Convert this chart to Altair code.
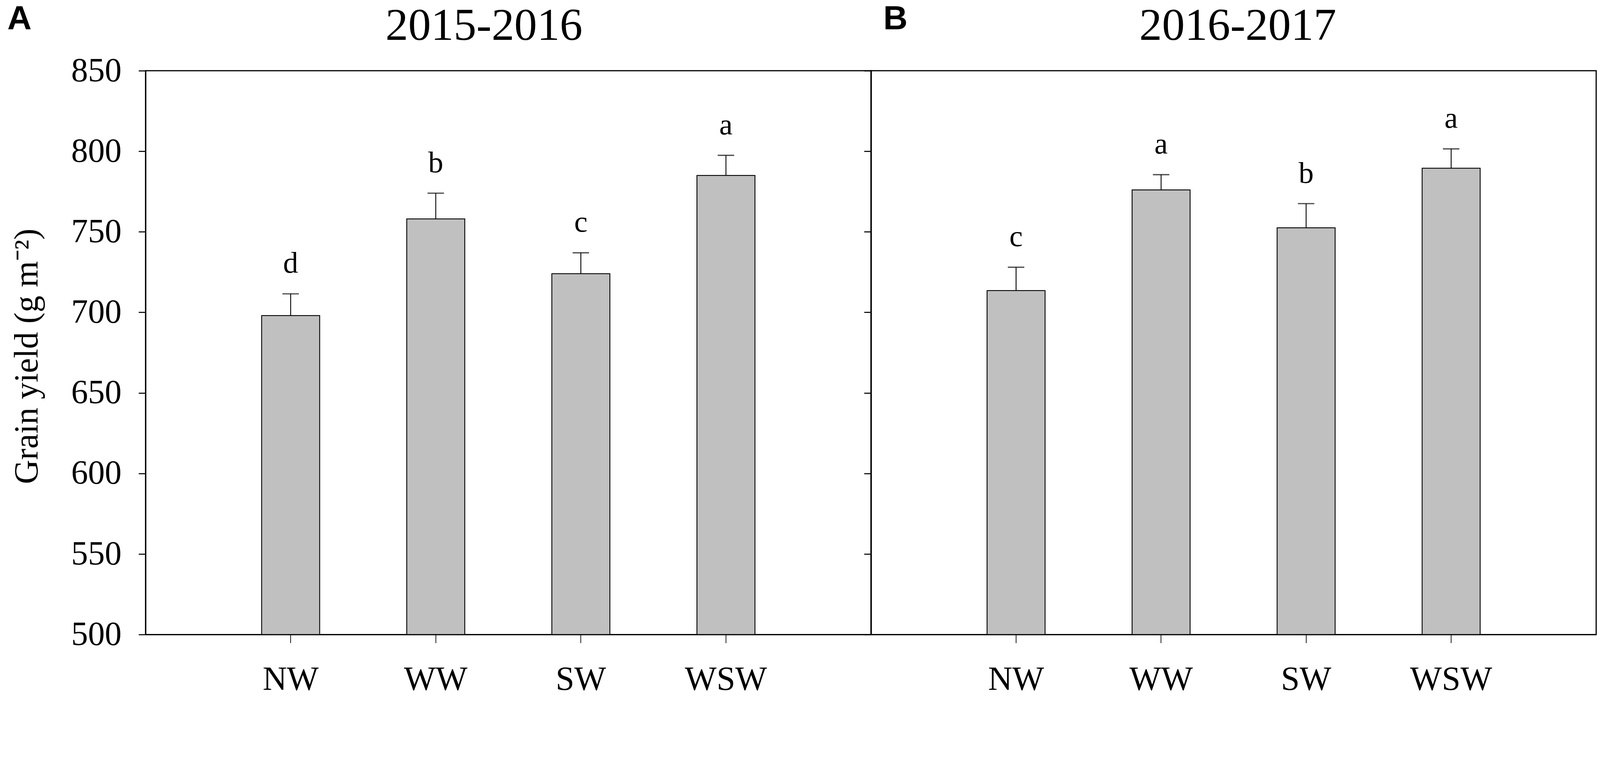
import altair as alt
import pandas as pd

treatments = ["NW", "WW", "SW", "WSW"]

yield_2015 = [698, 758, 724, 785]
se_2015 = [13.5, 16, 13, 12.5]
letters_2015 = ["d", "b", "c", "a"]

yield_2016 = [713.5, 776, 752.5, 789.5]
se_2016 = [14.5, 9.5, 15, 12]
letters_2016 = ["c", "a", "b", "a"]

seasons = ["2015-2016", "2016-2017"]
panel_letters = ["A", "B"]
y_ticks = [500, 550, 600, 650, 700, 750, 800, 850]
y_title = "Grain yield (g m⁻²)"

SERIF = "Liberation Serif"
SANS = "Liberation Sans"
W_A, W_B, H = 2073, 2072, 1611


def panel(yields, ses, letters, season, letter, first, title_x, letter_x):
    df = pd.DataFrame({"treatment": treatments, "yield": yields, "se": ses, "sig": letters})
    x_enc = alt.X(
        "treatment:N",
        sort=treatments,
        scale=alt.Scale(paddingInner=0.6, paddingOuter=0.8),
        axis=alt.Axis(
            title=None, labelAngle=0, labelFont=SERIF, labelFontSize=96,
            labelColor="black", labelPadding=58, labelLimit=0, tickSize=24, tickWidth=2,
            tickColor="black", domainColor="black", domainWidth=3.3,
        ),
    )
    y_axis = alt.Axis(
        values=y_ticks, tickSize=20, tickWidth=3, tickColor="black",
        domainColor="black", domainWidth=3.3, grid=False, title=None,
        labels=first, labelFont=SERIF, labelFontSize=96, labelColor="black",
        labelPadding=49,
    )
    y_scale = alt.Scale(domain=[500, 850], nice=False, zero=False)
    base = alt.Chart(df).transform_calculate(top="datum.yield + datum.se").encode(x=x_enc)
    bars = base.mark_bar(color="#C0C0C0", stroke="black", strokeWidth=2.5).encode(
        y=alt.Y("yield:Q", scale=y_scale, axis=y_axis), y2=alt.datum(500)
    )
    err = base.mark_rule(color="black", strokeWidth=2.5).encode(y="yield:Q", y2="top:Q")
    cap = base.mark_tick(color="black", size=47, thickness=3.5).encode(y="top:Q")
    sig = base.mark_text(font=SERIF, fontSize=86, baseline="alphabetic", dy=-60, color="black").encode(
        y="top:Q", text="sig:N"
    )
    head = pd.DataFrame({"t": [letter], "s": [season], "yt": [y_title]})
    lab = alt.Chart(head).mark_text(
        font=SANS, fontSize=96, fontWeight="bold", align="left", baseline="alphabetic", color="black"
    ).encode(text="t:N", x=alt.value(letter_x), y=alt.value(-118))
    ttl = alt.Chart(head).mark_text(
        font=SERIF, fontSize=130, align="center", baseline="alphabetic", color="black"
    ).encode(text="s:N", x=alt.value(title_x), y=alt.value(-88))
    layers = [bars, err, cap, sig, lab, ttl]
    if first:
        ytl = alt.Chart(head).mark_text(
            font=SERIF, fontSize=96, align="center", baseline="alphabetic", angle=270, color="black"
        ).encode(text="yt:N", x=alt.value(-309), y=alt.value(816))
        layers.append(ytl)
    return alt.layer(*layers).properties(width=W_A if first else W_B, height=H)


pa = panel(yield_2015, se_2015, letters_2015, seasons[0], panel_letters[0], True, 967, -395)
pb = panel(yield_2016, se_2016, letters_2016, seasons[1], panel_letters[1], False, 1048, 35)

chart = alt.hconcat(pa, pb, spacing=0, bounds="flush").properties(
    padding={"left": 10, "top": -110, "right": 0, "bottom": -49},
    background="white",
).configure_view(stroke="black", strokeWidth=3.3)

chart.save("out.html", embed_options={"renderer": "svg", "actions": False})
